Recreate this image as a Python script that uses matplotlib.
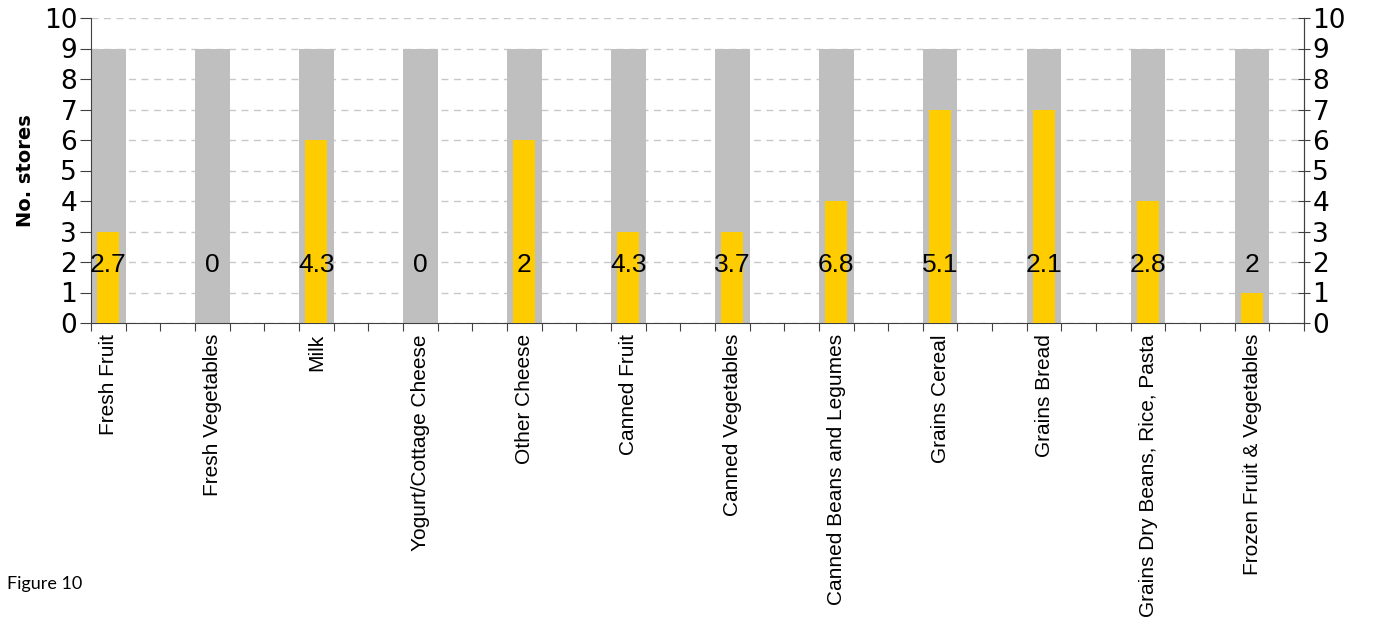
import numpy as np
import matplotlib.pyplot as plt
from matplotlib.ticker import MultipleLocator, FixedLocator

categories = ["Fresh Fruit", "Fresh Vegetables", "Milk", "Yogurt/Cottage Cheese",
              "Other Cheese", "Canned Fruit", "Canned Vegetables",
              "Canned Beans and Legumes", "Grains Cereal", "Grains Bread",
              "Grains Dry Beans, Rice, Pasta", "Frozen Fruit & Vegetables"]
total_stores = [9, 9, 9, 9, 9, 9, 9, 9, 9, 9, 9, 9]
stocking = [3, 0, 6, 0, 6, 3, 3, 4, 7, 7, 4, 1]
labels = ["2.7", "0", "4.3", "0", "2", "4.3", "3.7", "6.8", "5.1", "2.1", "2.8", "2"]

x = np.arange(len(categories))
axis_col = "#404040"

fig = plt.figure(figsize=(13.73, 6.25), dpi=100)
ax = fig.add_axes([0.0663, 0.4832, 0.8835, 0.488])

ax.bar(x, total_stores, width=1/3, color="#BFBFBF", zorder=2)
ax.bar(x, stocking, width=0.21, color="#FFCC00", zorder=3)
for xi, lab in zip(x, labels):
    ax.text(xi, 1.9, lab, ha="center", va="center", fontsize=19,
            family="Liberation Sans", zorder=4)

ax.set_xlim(-1/6, len(categories) - 0.5)
ax.set_ylim(0, 10)
ax.yaxis.set_major_locator(MultipleLocator(1))
ax.grid(axis="y", color="#C8C8C8", linestyle=(0, (5, 4)), linewidth=1, zorder=0)

# tick marks at bar edges and gap centres, category names in between
edges = -1/6 + np.arange(36) / 3
ax.xaxis.set_major_locator(FixedLocator(edges))
ax.xaxis.set_ticklabels([])
ax.xaxis.set_minor_locator(FixedLocator(x))
ax.xaxis.set_ticklabels(categories, minor=True, rotation=90, fontsize=15,
                        family="Liberation Sans")
ax.tick_params(axis="x", which="minor", length=0, pad=8)
ax.tick_params(axis="x", which="major", length=6, color=axis_col)
ax.tick_params(axis="y", labelsize=19, length=8, color=axis_col, pad=2)

ax.spines["top"].set_visible(False)
for s in ["left", "bottom", "right"]:
    ax.spines[s].set_color(axis_col)
ax.set_ylabel("No. stores", fontsize=14, fontweight="bold", labelpad=6)

ax2 = ax.twinx()
ax2.set_ylim(0, 10)
ax2.yaxis.set_major_locator(MultipleLocator(1))
ax2.tick_params(axis="y", labelsize=19, length=8, direction="inout",
                color=axis_col, pad=2)
for s in ["top", "left", "bottom"]:
    ax2.spines[s].set_visible(False)
ax2.spines["right"].set_color(axis_col)

fig.text(0.005, 0.058, "Figure 10", fontsize=13, family="Lato")

fig.savefig("out.png", dpi=100)
